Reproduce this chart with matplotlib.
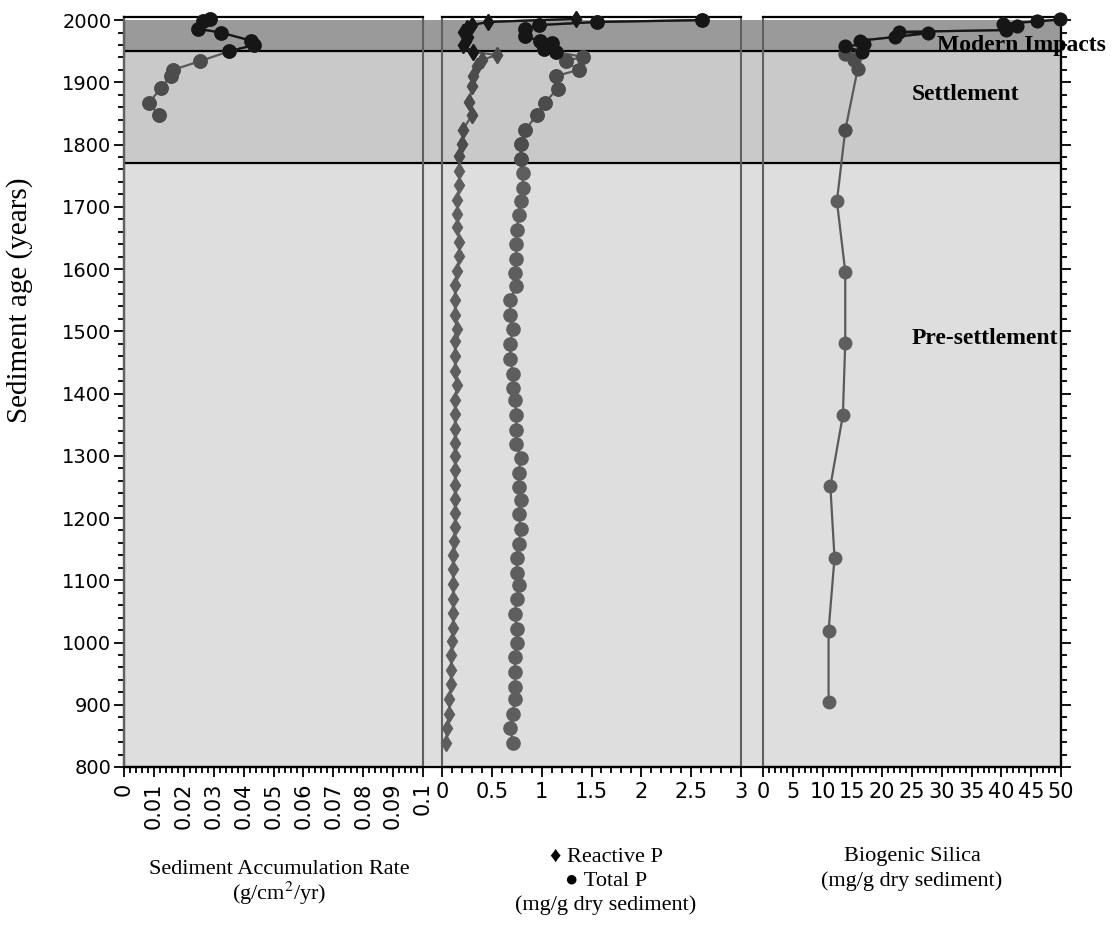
#getting the libraries
import numpy as np
import matplotlib.pyplot as plt
from matplotlib.ticker import MultipleLocator, FixedLocator, FixedFormatter
from matplotlib.transforms import blended_transform_factory

plt.rcParams['mathtext.fontset'] = 'stix'

# sediment accumulation rate (g/cm2/yr) against age
sar_age = [2001, 1998, 1986, 1980, 1967, 1960, 1950, 1934, 1920, 1910, 1891, 1867, 1847]
sar_val = [0.0288, 0.0265, 0.0248, 0.0324, 0.0425, 0.0435, 0.0352, 0.0254, 0.0163,
           0.0157, 0.0123, 0.0084, 0.0117]

# reactive P (mg/g)
rp_age = [2002, 1997, 1992, 1988, 1981, 1973, 1966, 1960, 1949, 1944, 1936, 1926, 1910,
          1894, 1869, 1847, 1824, 1801, 1782, 1758, 1735, 1711, 1688, 1668, 1644, 1621,
          1597, 1574, 1550, 1526, 1503, 1484, 1460, 1437, 1414, 1390, 1367, 1343, 1321,
          1300, 1277, 1253, 1230, 1208, 1186, 1163, 1141, 1118, 1094, 1070, 1047, 1023,
          1002, 980, 956, 933, 909, 885, 862, 839]
rp_val = [1.34, 0.46, 0.30, 0.25, 0.21, 0.26, 0.24, 0.21, 0.31, 0.55, 0.40, 0.35, 0.31,
          0.30, 0.275, 0.30, 0.21, 0.20, 0.175, 0.175, 0.175, 0.155, 0.155, 0.155, 0.175, 0.175,
          0.155, 0.13, 0.13, 0.13, 0.155, 0.13, 0.13, 0.13, 0.155, 0.13, 0.13, 0.13, 0.13,
          0.13, 0.13, 0.13, 0.13, 0.13, 0.13, 0.12, 0.11, 0.11, 0.11, 0.11, 0.11, 0.11,
          0.10, 0.09, 0.09, 0.09, 0.075, 0.075, 0.055, 0.04]

# total P (mg/g)
tp_age = [2000, 1997, 1992, 1985, 1974, 1967, 1964, 1954, 1949, 1941, 1934, 1920, 1910,
          1890, 1867, 1847, 1823, 1801, 1777, 1754, 1730, 1709, 1687, 1663, 1640, 1616,
          1593, 1573, 1550, 1526, 1503, 1480, 1455, 1432, 1409, 1389, 1365, 1342, 1319,
          1296, 1272, 1250, 1229, 1206, 1182, 1159, 1135, 1112, 1093, 1070, 1046, 1022,
          999, 976, 952, 929, 909, 885, 862, 839]
tp_val = [2.61, 1.56, 0.97, 0.83, 0.83, 0.98, 1.10, 1.02, 1.14, 1.41, 1.24, 1.37, 1.14,
          1.16, 1.03, 0.95, 0.83, 0.79, 0.79, 0.81, 0.81, 0.79, 0.77, 0.75, 0.745, 0.745,
          0.73, 0.745, 0.685, 0.685, 0.71, 0.685, 0.685, 0.71, 0.71, 0.73, 0.745, 0.745, 0.745,
          0.79, 0.77, 0.77, 0.79, 0.77, 0.79, 0.77, 0.75, 0.75, 0.77, 0.75, 0.73, 0.75,
          0.75, 0.73, 0.73, 0.73, 0.73, 0.71, 0.685, 0.71]

# biogenic silica (mg/g)
bsi_age = [2001, 1998, 1994, 1990, 1984, 1981, 1979, 1973, 1967, 1961, 1958, 1949, 1945,
           1936, 1922, 1823, 1709, 1596, 1482, 1365, 1251, 1136, 1019, 905]
bsi_val = [49.9, 46.0, 40.2, 42.7, 40.7, 22.9, 27.7, 22.2, 16.3, 16.9, 13.8, 16.6, 13.8,
           15.3, 15.9, 13.8, 12.4, 13.8, 13.8, 13.4, 11.3, 12.0, 11.0, 11.0]

# zones
zone_names = ['Modern Impacts', 'Settlement', 'Pre-settlement']
zone_lo = [1950, 1770, 800]
zone_hi = [2000, 1950, 1770]
zone_colors = ['#9a9a9a', '#c9c9c9', '#dedede']

year_ticks = list(range(800, 2001, 100))
sar_ticks = [0, 0.01, 0.02, 0.03, 0.04, 0.05, 0.06, 0.07, 0.08, 0.09, 0.1]
sar_labels = ['0', '0.01', '0.02', '0.03', '0.04', '0.05', '0.06', '0.07', '0.08', '0.09', '0.1']
p_ticks = [0, 0.5, 1, 1.5, 2, 2.5, 3]
p_labels = ['0', '0.5', '1', '1.5', '2', '2.5', '3']
bsi_ticks = [0, 5, 10, 15, 20, 25, 30, 35, 40, 45, 50]
bsi_labels = ['0', '5', '10', '15', '20', '25', '30', '35', '40', '45', '50']

W, H = 1112, 951
fig = plt.figure(figsize=(W / 100, H / 100), dpi=100)

def box(x0, x1, y0=17, y1=767):
    return [x0 / W, 1 - y1 / H, (x1 - x0) / W, (y1 - y0) / H]

YLIM = (800, 2005)
serif = ['Liberation Serif', 'DejaVu Serif']

# background axis with zones and year axis
bg = fig.add_axes(box(124, 1061))
bg.set_ylim(*YLIM)
bg.set_xlim(0, 1)
for lo, hi, c in zip(zone_lo, zone_hi, zone_colors):
    bg.axhspan(lo, hi, color=c, lw=0, zorder=0)
bg.axhline(1950, color='black', lw=1.6, zorder=1)
bg.axhline(1770, color='black', lw=1.6, zorder=1)
bg.set_xticks([])
bg.yaxis.set_major_locator(FixedLocator(year_ticks))
bg.yaxis.set_minor_locator(MultipleLocator(20))
bg.tick_params(axis='y', which='both', direction='out', left=True, right=True,
               labelsize=14, width=1.3, pad=2)
bg.tick_params(axis='y', which='major', length=7)
bg.tick_params(axis='y', which='minor', length=4)
bg.spines['top'].set_visible(False)
for s in ['left', 'right', 'bottom']:
    bg.spines[s].set_linewidth(1.6)

tr = blended_transform_factory(bg.transAxes, bg.transData)
bg.text((937 - 124) / 937, 1960, zone_names[0], transform=tr, family=serif,
        fontweight='bold', fontsize=17, va='center', ha='left', zorder=5, clip_on=False)
bg.text((912 - 124) / 937, 1881, zone_names[1], transform=tr, family=serif,
        fontweight='bold', fontsize=17, va='center', ha='left', zorder=5)
bg.text((912 - 124) / 937, 1488, zone_names[2], transform=tr, family=serif,
        fontweight='bold', fontsize=17, va='center', ha='left', zorder=5)


def panel(x0, x1, xlim, ticks, labels, minor, rot=0):
    ax = fig.add_axes(box(x0, x1))
    ax.patch.set_alpha(0)
    ax.set_ylim(*YLIM)
    ax.set_xlim(*xlim)
    ax.set_yticks([])
    ax.xaxis.set_major_locator(FixedLocator(ticks))
    ax.xaxis.set_major_formatter(FixedFormatter(labels))
    ax.xaxis.set_minor_locator(MultipleLocator(minor))
    ax.tick_params(axis='x', which='both', direction='out', width=1.3, labelsize=15, pad=4)
    ax.tick_params(axis='x', which='major', length=7)
    ax.tick_params(axis='x', which='minor', length=4)
    for lab in ax.get_xticklabels():
        lab.set_rotation(rot)
    ax.spines['top'].set_color('black')
    ax.spines['top'].set_linewidth(1.6)
    ax.spines['left'].set_color('#606060')
    ax.spines['right'].set_color('#606060')
    ax.spines['left'].set_linewidth(1.5)
    ax.spines['right'].set_linewidth(1.5)
    ax.spines['bottom'].set_linewidth(1.6)
    return ax


def profile(ax, vals, ages, marker, ms):
    a = np.array(ages)
    v = np.array(vals)
    ax.plot(v, a, '-', color='#5a5a5a', lw=1.6, marker=marker, ms=ms,
            mfc='#5e5e5e', mec='#5e5e5e', clip_on=False, zorder=3)
    st = (a < 1948) & (a >= 1770)
    ax.plot(v[st], a[st], ls='none', marker=marker, ms=ms, mfc='#4c4c4c',
            mec='#4c4c4c', clip_on=False, zorder=3)
    m = a >= 1948
    ax.plot(v[m], a[m], '-', color='#161616', lw=1.6, marker=marker, ms=ms,
            mfc='#161616', mec='#161616', clip_on=False, zorder=4)


ax1 = panel(124, 423, (0, 0.1), sar_ticks, sar_labels, 0.002, rot=90)
profile(ax1, sar_val, sar_age, 'o', 9.5)

ax2 = panel(442, 741, (0, 3), p_ticks, p_labels, 0.1)
profile(ax2, rp_val, rp_age, 'd', 8)
profile(ax2, tp_val, tp_age, 'o', 9.5)

ax3 = panel(763, 1061, (0, 50), bsi_ticks, bsi_labels, 1)
profile(ax3, bsi_val, bsi_age, 'o', 9)
ax3.spines['right'].set_color('black')

# axis titles
def ftext(x, y, s, size=16, **kw):
    fig.text(x / W, 1 - y / H, s, ha='center', va='center', family=serif, fontsize=size, **kw)

ftext(20, 300, 'Sediment age (years)', size=21, rotation=90)
ftext(279, 869, 'Sediment Accumulation Rate')
ftext(279, 893, '(g/cm$^{2}$/yr)')
ftext(606, 857, '\u2666 Reactive P')
ftext(606, 881, '\u25cf Total P')
ftext(606, 905, '(mg/g dry sediment)')
ftext(912, 857, 'Biogenic Silica')
ftext(912, 881, '(mg/g dry sediment)')

fig.savefig('out.png', dpi=100)
